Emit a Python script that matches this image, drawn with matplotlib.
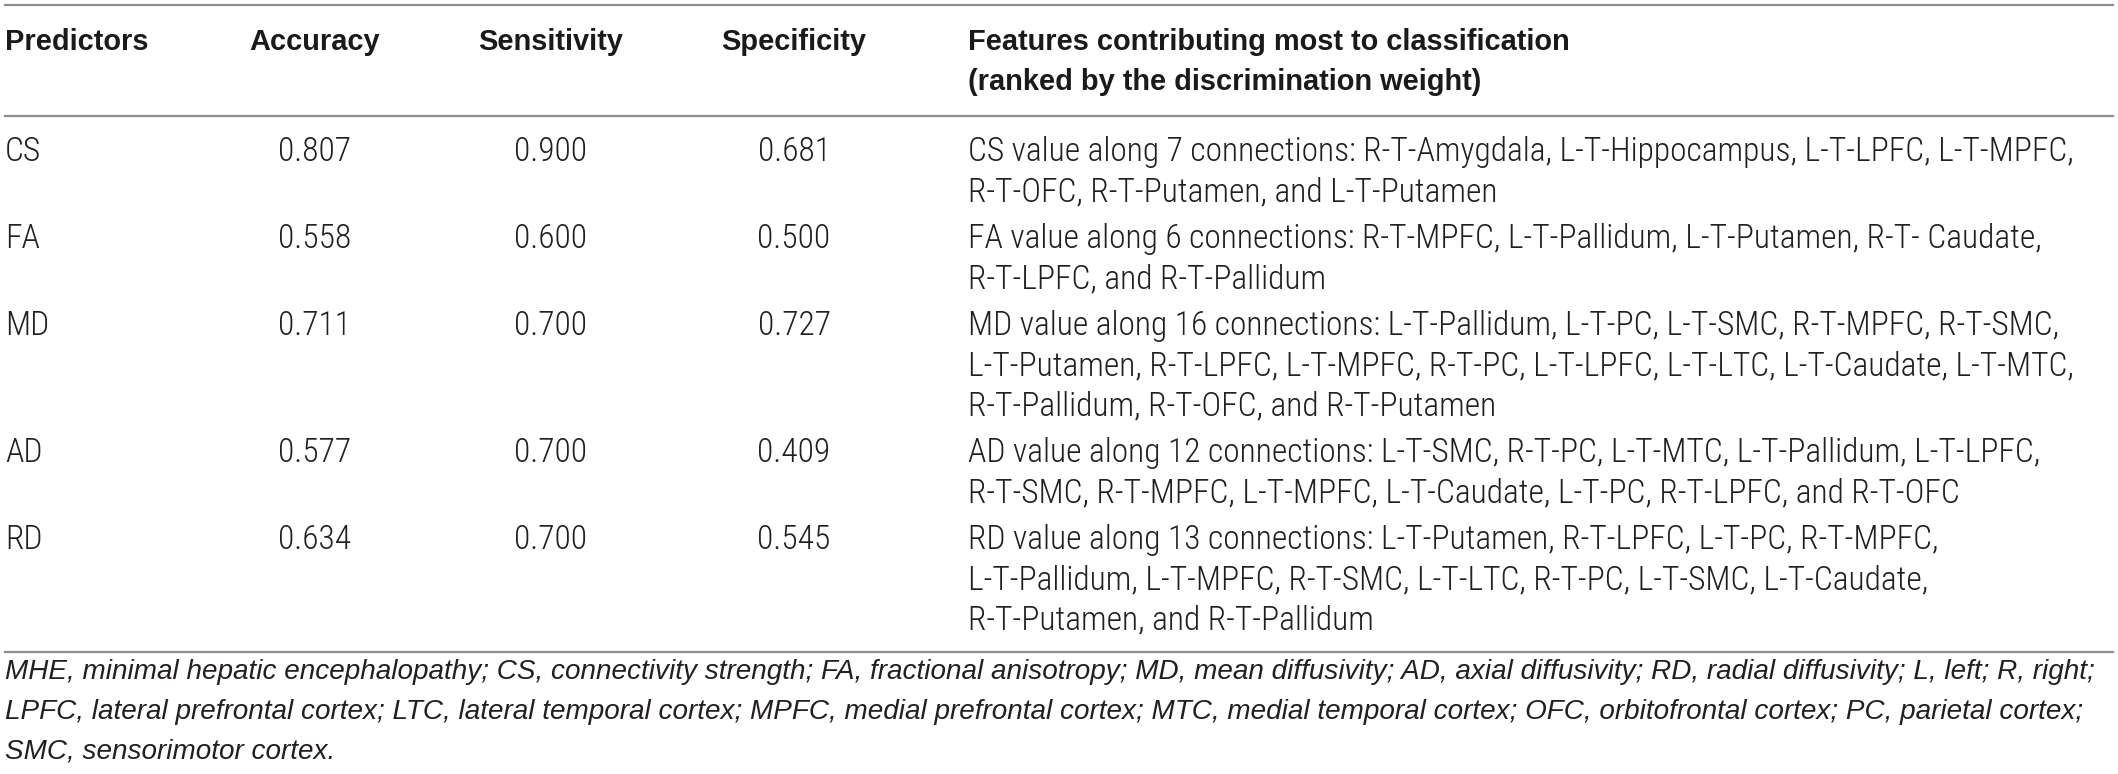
import matplotlib
matplotlib.use("Agg")
import matplotlib.pyplot as plt
from matplotlib import font_manager

# table content
headers = ["Predictors", "Accuracy", "Sensitivity", "Specificity"]
features_header = ["Features contributing most to classification",
                   "(ranked by the discrimination weight)"]
predictors = ["CS", "FA", "MD", "AD", "RD"]
accuracy = [0.807, 0.558, 0.711, 0.577, 0.634]
sensitivity = [0.900, 0.600, 0.700, 0.700, 0.700]
specificity = [0.681, 0.500, 0.727, 0.409, 0.545]
features = [
    ["CS value along 7 connections: R-T-Amygdala, L-T-Hippocampus, L-T-LPFC, L-T-MPFC,",
     "R-T-OFC, R-T-Putamen, and L-T-Putamen"],
    ["FA value along 6 connections: R-T-MPFC, L-T-Pallidum, L-T-Putamen, R-T- Caudate,",
     "R-T-LPFC, and R-T-Pallidum"],
    ["MD value along 16 connections: L-T-Pallidum, L-T-PC, L-T-SMC, R-T-MPFC, R-T-SMC,",
     "L-T-Putamen, R-T-LPFC, L-T-MPFC, R-T-PC, L-T-LPFC, L-T-LTC, L-T-Caudate, L-T-MTC,",
     "R-T-Pallidum, R-T-OFC, and R-T-Putamen"],
    ["AD value along 12 connections: L-T-SMC, R-T-PC, L-T-MTC, L-T-Pallidum, L-T-LPFC,",
     "R-T-SMC, R-T-MPFC, L-T-MPFC, L-T-Caudate, L-T-PC, R-T-LPFC, and R-T-OFC"],
    ["RD value along 13 connections: L-T-Putamen, R-T-LPFC, L-T-PC, R-T-MPFC,",
     "L-T-Pallidum, L-T-MPFC, R-T-SMC, L-T-LTC, R-T-PC, L-T-SMC, L-T-Caudate,",
     "R-T-Putamen, and R-T-Pallidum"],
]
footnote = [
    "MHE, minimal hepatic encephalopathy; CS, connectivity strength; FA, fractional anisotropy; "
    "MD, mean diffusivity; AD, axial diffusivity; RD, radial diffusivity; L, left; R, right;",
    "LPFC, lateral prefrontal cortex; LTC, lateral temporal cortex; MPFC, medial prefrontal cortex; "
    "MTC, medial temporal cortex; OFC, orbitofrontal cortex; PC, parietal cortex;",
    "SMC, sensorimotor cortex.",
]

installed = {f.name for f in font_manager.fontManager.ttflist}
body_font = "Liberation Sans"
for name in ["Roboto Condensed", "Liberation Sans Narrow", "DejaVu Sans Condensed"]:
    if name in installed:
        body_font = name
        break
head_font = "Liberation Sans"

W, H = 2118, 774
fig = plt.figure(figsize=(W / 100, H / 100), dpi=100)
ax = fig.add_axes([0, 0, 1, 1])
ax.set_xlim(0, W)
ax.set_ylim(H, 0)
ax.axis("off")
renderer = fig.canvas.get_renderer()


def fit_size(s, target, **kw):
    t = ax.text(0, 0, s, fontsize=20, **kw)
    w = t.get_window_extent(renderer).width
    t.remove()
    return 20 * target / w


body_kw = dict(family=body_font, weight="light", color="#231f20")
head_kw = dict(family=head_font, weight="bold", color="#1a1a1a")
foot_kw = dict(family="Liberation Sans", style="italic", color="#231f20")

body_fs = fit_size(features[0][0], 1103, **body_kw)
head_fs = fit_size("Specificity", 145, **head_kw)
foot_fs = fit_size(footnote[0], 2088, **foot_kw)

# rules
line_kw = dict(color="#8e8e8e", lw=1.6)
for y in [5, 116, 652]:
    ax.plot([5, 2113], [y, y], **line_kw)

col_x = [5, 315, 551, 794]
col_ha = ["left", "center", "center", "center"]
for x, ha, h in zip(col_x, col_ha, headers):
    ax.text(x, 42, h, ha=ha, va="center", fontsize=head_fs, **head_kw)
for i, h in enumerate(features_header):
    ax.text(968, 42 + 40 * i, h, ha="left", va="center", fontsize=head_fs, **head_kw)

line_h = 40
y = 152
for i, p in enumerate(predictors):
    vals = [p, f"{accuracy[i]:.3f}", f"{sensitivity[i]:.3f}", f"{specificity[i]:.3f}"]
    for x, ha, v in zip(col_x, col_ha, vals):
        ax.text(x, y, v, ha=ha, va="center", fontsize=body_fs, **body_kw)
    for j, s in enumerate(features[i]):
        ax.text(968, y + line_h * j, s, ha="left", va="center", fontsize=body_fs, **body_kw)
    y += line_h * len(features[i]) + 7

for j, s in enumerate(footnote):
    ax.text(5, 672 + 40 * j, s, ha="left", va="center", fontsize=foot_fs, **foot_kw)

fig.savefig("out.png", dpi=100)
